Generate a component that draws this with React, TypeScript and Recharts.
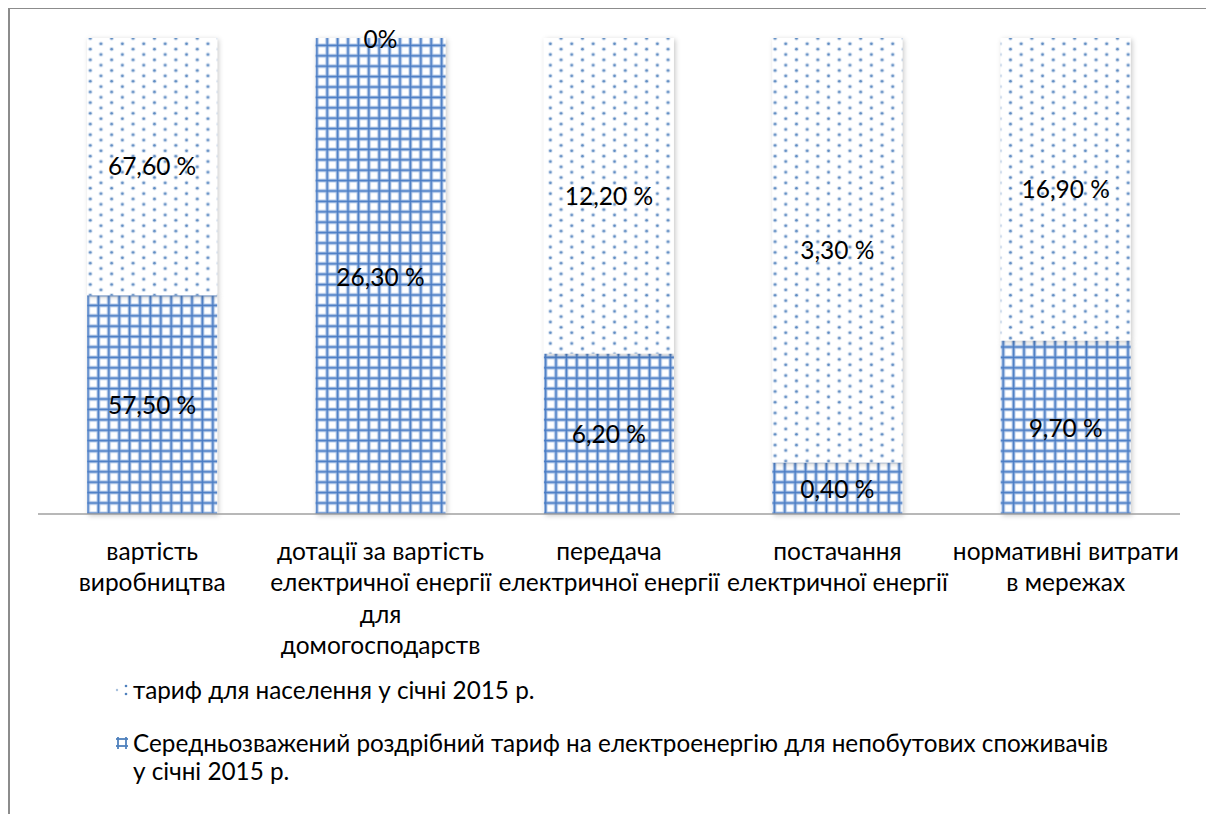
import React from 'react';
import { BarChart, Bar, XAxis, YAxis, LabelList, Legend } from 'recharts';

// Tariff structure components (category labels carry their own line breaks)
const categories = [
  'вартість\nвиробництва',
  'дотації за вартість\nелектричної енергії\nдля\nдомогосподарств',
  'передача\nелектричної енергії',
  'постачання\nелектричної енергії',
  'нормативні витрати\nв мережах',
];

// Share of each component, %
const nonHouseholdTariff = [57.5, 26.3, 6.2, 0.4, 9.7];
const householdTariff = [67.6, 0, 12.2, 3.3, 16.9];

const householdName = 'тариф для населення у січні 2015 р.';
const nonHouseholdName =
  'Середньозважений роздрібний тариф на електроенергію для непобутових споживачів\nу січні 2015 р.';

const data = categories.map((name, i) => ({
  name,
  nonHousehold: nonHouseholdTariff[i],
  household: householdTariff[i],
}));

const FONT = 'Lato, "Open Sans", sans-serif';
const BLUE = '#4f81bd';
const LABEL_SIZE = 24.5;

const formatPercent = (v: any) => {
  const n = Number(v);
  if (n === 0) return '0%';
  return n.toFixed(2).replace('.', ',') + ' %';
};

const labelText = (x: number, y: number, text: string, key?: string) => (
  <text
    key={key}
    x={x}
    y={y}
    textAnchor="middle"
    dominantBaseline="central"
    fontSize={LABEL_SIZE}
    fontFamily={FONT}
    fill="#000"
  >
    {text}
  </text>
);

// Lower segment label; when the upper segment is empty its label sits on the stack top
const LowerLabel = (props: any) => {
  const { x, y, width, height, value, index } = props;
  const cx = Number(x) + Number(width) / 2;
  const upper = data[index]?.household;
  return (
    <g>
      {labelText(cx, Number(y) + Number(height) / 2, formatPercent(value))}
      {upper === 0 ? labelText(cx, Number(y), formatPercent(upper)) : null}
    </g>
  );
};

const CategoryTick = (props: any) => {
  const { x, y, payload } = props;
  const lines = String(payload.value).split('\n');
  return (
    <g transform={`translate(${x},${y})`}>
      {lines.map((line: string, i: number) => (
        <text
          key={i}
          x={0}
          y={36 + i * 31.5}
          textAnchor="middle"
          dominantBaseline="central"
          fontSize={24.5}
          fontFamily={FONT}
          fill="#000"
        >
          {line}
        </text>
      ))}
    </g>
  );
};

const Swatch = ({ pattern }: { pattern: 'dots' | 'grid' }) => (
  <svg width={14} height={14} style={{ display: 'block' }}>
    {pattern === 'dots' ? (
      <g fill={BLUE}>
        <circle cx={2} cy={7} r={1.2} opacity={0.5} />
        <circle cx={11} cy={3} r={1.3} />
        <circle cx={11} cy={11} r={1.3} />
      </g>
    ) : (
      <g stroke={BLUE} strokeWidth={1.8} fill="none">
        <line x1={1} y1={3} x2={13} y2={3} />
        <line x1={1} y1={10} x2={13} y2={10} />
        <line x1={3} y1={1} x2={3} y2={13} />
        <line x1={11} y1={1} x2={11} y2={13} />
      </g>
    )}
  </svg>
);

const LegendContent = () => {
  const items = [
    { name: householdName, pattern: 'dots' as const, top: 6 },
    { name: nonHouseholdName, pattern: 'grid' as const, top: 59 },
  ];
  return (
    <div style={{ position: 'relative', height: 120, fontFamily: FONT, fontSize: 24.3, color: '#000' }}>
      {items.map((it) => (
        <div key={it.pattern} style={{ position: 'absolute', left: 105, top: it.top, display: 'flex' }}>
          <div style={{ width: 18, paddingTop: 7 }}>
            <Swatch pattern={it.pattern} />
          </div>
          <div style={{ whiteSpace: 'pre-line', lineHeight: '28px' }}>{it.name}</div>
        </div>
      ))}
    </div>
  );
};

export default function App() {
  return (
    <div
      style={{
        width: 1198,
        height: 806,
        marginTop: -1,
        borderTop: '2px solid #8c8c8c',
        borderLeft: '2px solid #8c8c8c',
        borderRight: '2px solid #8c8c8c',
        background: '#fff',
      }}
    >
      <BarChart
        width={1198}
        height={806}
        data={data}
        stackOffset="expand"
        barCategoryGap="21.5%"
        margin={{ top: 29, right: 28, left: 28, bottom: 25 }}
      >
        <defs>
          <pattern id="dotsPattern" patternUnits="userSpaceOnUse" width={21.4} height={10.7}>
            <rect width={21.4} height={10.7} fill="#fff" />
            <circle cx={5.35} cy={2.7} r={2.2} fill={BLUE} opacity={0.25} />
            <circle cx={5.35} cy={2.7} r={1.3} fill={BLUE} opacity={0.9} />
            <circle cx={16.05} cy={8.05} r={2.2} fill={BLUE} opacity={0.25} />
            <circle cx={16.05} cy={8.05} r={1.3} fill={BLUE} opacity={0.9} />
          </pattern>
          <pattern id="gridPattern" patternUnits="userSpaceOnUse" width={10.4} height={10.4}>
            <rect width={10.4} height={10.4} fill="#fff" />
            <line x1={5.2} y1={0} x2={5.2} y2={10.4} stroke="#a9c2e6" strokeWidth={3.6} />
            <line x1={0} y1={5.2} x2={10.4} y2={5.2} stroke="#a9c2e6" strokeWidth={3.6} />
            <line x1={5.2} y1={0} x2={5.2} y2={10.4} stroke="#4a7cc4" strokeWidth={1.6} />
            <line x1={0} y1={5.2} x2={10.4} y2={5.2} stroke="#4a7cc4" strokeWidth={1.6} />
          </pattern>
          <filter id="barShadow" x="-10%" y="-10%" width="130%" height="130%">
            <feDropShadow dx={1.5} dy={1.5} stdDeviation={2.5} floodColor="#000" floodOpacity={0.22} />
          </filter>
        </defs>
        <XAxis
          dataKey="name"
          interval={0}
          height={156}
          tickLine={false}
          tickSize={0}
          tickMargin={0}
          axisLine={{ stroke: '#a0a0a0', strokeWidth: 1.5 }}
          tick={<CategoryTick />}
        />
        <YAxis hide domain={[0, 1]} />
        <Legend verticalAlign="bottom" align="left" content={<LegendContent />}
          wrapperStyle={{ left: 0, bottom: 25, width: 1198, height: 120 }} />
        <Bar
          dataKey="nonHousehold"
          name={nonHouseholdName}
          stackId="tariff"
          fill="url(#gridPattern)"
          filter="url(#barShadow)"
          isAnimationActive={false}
        >
          <LabelList dataKey="nonHousehold" content={<LowerLabel />} />
        </Bar>
        <Bar
          dataKey="household"
          name={householdName}
          stackId="tariff"
          fill="url(#dotsPattern)"
          filter="url(#barShadow)"
          isAnimationActive={false}
        >
          <LabelList dataKey="household" position="center" formatter={formatPercent}
            fill="#000" fontSize={LABEL_SIZE} fontFamily={FONT} />
        </Bar>
      </BarChart>
    </div>
  );
}
